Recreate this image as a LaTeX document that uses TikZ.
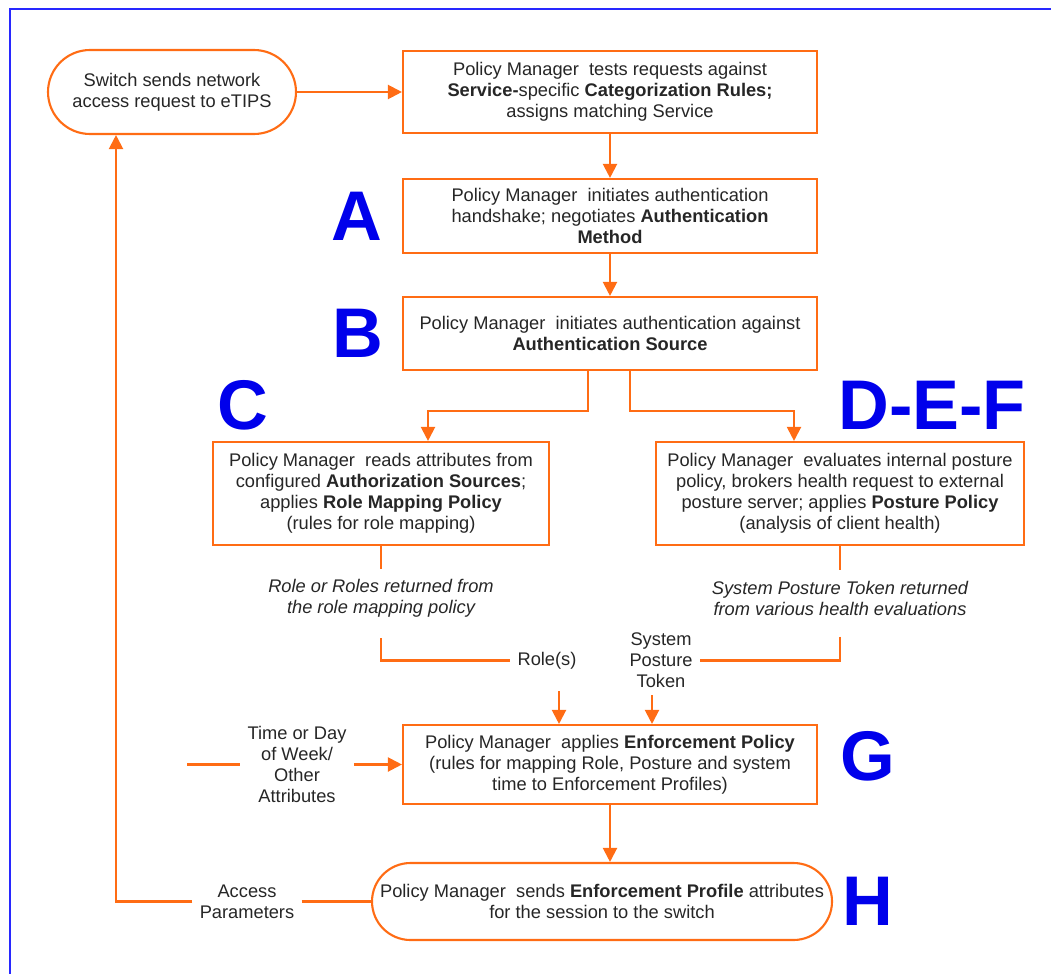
\documentclass[tikz,border=0pt]{standalone}
\usepackage{fontspec}
\setmainfont{Liberation Sans}
\usepackage{tikz}
\usetikzlibrary{positioning,arrows.meta}
\definecolor{flowor}{RGB}{255,108,20}
\definecolor{tagblue}{RGB}{0,0,235}
\definecolor{rimblue}{RGB}{40,40,255}

\begin{document}
\begin{tikzpicture}[node distance=2cm,on grid,
	every node/.style={text=black!85,font=\fontsize{10.4}{12}\selectfont,align=center},
	box/.style={draw=flowor,line width=1.2pt,fill=white,inner sep=1pt},
	term/.style={box,rounded corners=#1},
	note/.style={font=\fontsize{10.4}{12}\selectfont\itshape,inner sep=6pt},
	lbl/.style={inner sep=4pt},
	tag/.style={text=tagblue,font=\fontsize{40}{40}\selectfont\bfseries,inner sep=0pt},
	link/.style={color=flowor,line width=1.2pt},
	arr/.style={link,-{Triangle[length=8pt,width=8pt]}}] 
			\useasboundingbox (0,0) rectangle (21.02,-19.46);
			\draw[rimblue,line width=1.5pt] (21.1,-0.18) -- (0.2,-0.18) -- (0.2,-19.6);
			
			\node[term=0.84cm,minimum width=4.96cm,minimum height=1.68cm] (sw) at (3.44,-1.84) {Switch sends network\\access request to eTIPS}; 
			\node[box,minimum width=8.28cm,minimum height=1.64cm] (svc) [right=8.76cm of sw] {Policy Manager~ tests requests against\\\textbf{Service-}specific \textbf{Categorization Rules;}\\assigns matching Service}; 
			\node[box,minimum width=8.28cm,minimum height=1.48cm] (meth) [below=2.48cm of svc] {Policy Manager~ initiates authentication\\handshake; negotiates \textbf{Authentication}\\\textbf{Method}}; 
			\node[box,minimum width=8.28cm,minimum height=1.46cm] (src) [below=2.35cm of meth] {Policy Manager~ initiates authentication against\\\textbf{Authentication Source}}; 
			\node[box,minimum width=6.72cm,minimum height=2.06cm] (authz) [below left=3.2cm and 4.58cm of src] {Policy Manager~ reads attributes from\\configured \textbf{Authorization Sources};\\applies \textbf{Role Mapping Policy}\\(rules for role mapping)}; 
			\node[box,minimum width=7.36cm,minimum height=2.06cm] (post) [below right=3.2cm and 4.6cm of src] {Policy Manager~ evaluates internal posture\\policy, brokers health request to external\\posture server; applies \textbf{Posture Policy}\\(analysis of client health)}; 
			\node[note] (role_t) [below=2.1cm of authz] {Role or Roles returned from\\the role mapping policy}; 
			\node[note] (spt_t) [below=2.1cm of post] {System Posture Token returned\\from various health evaluations}; 
			\node[lbl] (role) [below right=1.24cm and 3.32cm of role_t] {Role(s)}; 
			\node[lbl] (spt) [below left=1.24cm and 3.58cm of spt_t] {System\\Posture\\Token}; 
			\node[box,minimum width=8.28cm,minimum height=1.58cm] (enf) [below=8.62cm of src] {Policy Manager~ applies \textbf{Enforcement Policy}\\(rules for mapping Role, Posture and system\\time to Enforcement Profiles)}; 
			\node[term=0.77cm,minimum width=9.2cm,minimum height=1.54cm] (prof) [below left=2.74cm and 0.16cm of enf] {Policy Manager~ sends \textbf{Enforcement Profile} attributes\\for the session to the switch}; 
			\node[lbl] (time) [left=6.26cm of enf] {Time or Day\\of Week/\\Other\\Attributes}; 
			\node[lbl] (acc) [left=7.1cm of prof] {Access\\Parameters}; 
			\coordinate[left=2.2cm of time] (time_in); 
			
			\node[tag] (l_A) [left=5.06cm of meth] {A}; 
			\node[tag] (l_B) [left=5.04cm of src] {B}; 
			\node[tag] (l_C) [above left=1.77cm and 2.76cm of authz] {C}; 
			\node[tag] (l_DEF) [above right=1.77cm and 1.84cm of post] {D-E-F}; 
			\node[tag] (l_G) [above right=0.17cm and 5.16cm of enf] {G}; 
			\node[tag] (l_H) [right=5.32cm of prof] {H}; 
			
			\path[arr] 
			(sw) edge (svc)
			(svc) edge (meth)
			(meth) edge (src);
			\draw[arr] ([xshift=-0.44cm]src.south) -- ++(0,-0.8) -| ([xshift=0.94cm]authz.north);
			\draw[arr] ([xshift=0.4cm]src.south) -- ++(0,-0.8) -| ([xshift=-0.92cm]post.north);
			\path[link] 
			(authz) edge (role_t)
			(post) edge (spt_t);
			\draw[link] ([yshift=-0.2cm]role_t.south) |- (role);
			\draw[link] ([yshift=-0.2cm]spt_t.south) |- (spt);
			\draw[arr] ([xshift=0.24cm,yshift=-0.3cm]role.south) coordinate (r_in) -- (r_in |- enf.north);
			\draw[arr] ([xshift=-0.18cm]spt.south) coordinate (s_in) -- (s_in |- enf.north);
			\draw[arr] (enf.south) -- (enf.south |- prof.north);
			\draw[link] (time_in) -- (time);
			\draw[arr] (time.east) -- (time.east -| enf.west);
			\draw[link] (acc) -- (prof);
			\draw[arr] (acc.west) -| ([xshift=-1.12cm]sw.south);
			
		\end{tikzpicture}
\end{document}
